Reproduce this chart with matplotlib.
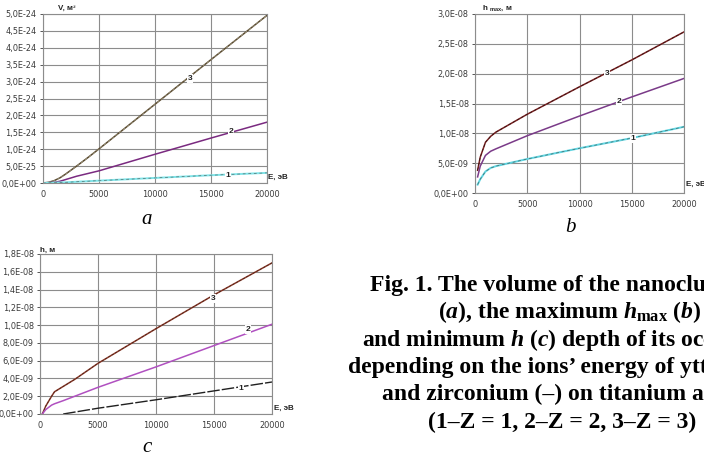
"""Nanocluster volume and depth vs ion energy: three small panels plus caption."""

import matplotlib

matplotlib.use("Agg")

import matplotlib.pyplot as plt
from matplotlib.ticker import FuncFormatter

plt.rcParams["mathtext.fontset"] = "custom"
plt.rcParams["mathtext.rm"] = "Liberation Serif:bold"
plt.rcParams["mathtext.it"] = "Liberation Serif:italic:bold"
plt.rcParams["mathtext.bf"] = "Liberation Serif:bold"
plt.rcParams["mathtext.sf"] = "Liberation Sans:bold"

# --- data ---
X_TICKS = [0, 5000, 10000, 15000, 20000]

# (a) volume V, m^3
A_E3 = [0, 500, 1000, 1500, 2000, 3000, 4000, 5000, 10000, 15000, 20000]
A_V3 = [0, 0.02e-24, 0.07e-24, 0.15e-24, 0.26e-24, 0.5e-24, 0.75e-24, 1.01e-24, 2.33e-24, 3.65e-24, 4.96e-24]
A_E2 = [0, 1000, 1500, 2000, 3000, 5000, 10000, 15000, 20000]
A_V2 = [0, 0.02e-24, 0.05e-24, 0.1e-24, 0.2e-24, 0.36e-24, 0.85e-24, 1.33e-24, 1.8e-24]
A_E1 = [0, 2000, 5000, 10000, 15000, 20000]
A_V1 = [0, 0.02e-24, 0.07e-24, 0.15e-24, 0.23e-24, 0.3e-24]

# (b) maximum depth h_max, m
B_E = [250, 500, 1000, 1500, 2000, 5000, 10000, 15000, 20000]
B_H3 = [3.8e-9, 6.0e-9, 8.5e-9, 9.5e-9, 10.2e-9, 13.2e-9, 17.8e-9, 22.3e-9, 27.0e-9]
B_H2 = [2.7e-9, 4.5e-9, 6.3e-9, 7.0e-9, 7.4e-9, 9.6e-9, 12.9e-9, 16.1e-9, 19.2e-9]
B_H1 = [1.4e-9, 2.3e-9, 3.6e-9, 4.2e-9, 4.5e-9, 5.7e-9, 7.5e-9, 9.2e-9, 11.1e-9]

# (c) minimum depth h, m
C_E32 = [200, 500, 1000, 1250, 2000, 3000, 5000, 10000, 15000, 20000]
C_H3 = [0, 0.9e-9, 2.0e-9, 2.5e-9, 3.1e-9, 3.9e-9, 5.7e-9, 9.6e-9, 13.4e-9, 17.0e-9]
C_H2 = [0, 0.5e-9, 1.0e-9, 1.15e-9, 1.5e-9, 2.0e-9, 3.0e-9, 5.3e-9, 7.7e-9, 10.1e-9]
C_E1 = [2000, 5000, 10000, 15000, 20000]
C_H1 = [0, 0.65e-9, 1.6e-9, 2.6e-9, 3.6e-9]

# caption runs off the right edge in the source image as well
CAPTION = [
    "Fig. 1. The volume of the nanoclus",
    r"($a$), the maximum $h_{\rm max}$ ($b$)",
    r"and minimum $h$ ($c$) depth of its occur",
    "depending on the ions\u2019 energy of yttri",
    "and zirconium (\u2013) on titanium at",
    "(1\u2013Z = 1, 2\u2013Z = 2, 3\u2013Z = 3)",
]
CAPTION_X = [370, 438, 362, 348, 382, 428]

W, H = 704, 462
GRID = "#8c8c8c"
TICK_COLOR = "#3a3a3a"


def sci_comma(v, _pos):
    return f"{v:.1E}".replace(".", ",")


def frame(ax, ymax, ystep):
    ax.set_xlim(0, 20000)
    ax.set_ylim(0, ymax)
    ax.set_xticks(X_TICKS)
    n = int(round(ymax / ystep))
    ax.set_yticks([i * ystep for i in range(n + 1)])
    ax.yaxis.set_major_formatter(FuncFormatter(sci_comma))
    ax.grid(True, color=GRID, lw=0.8)
    ax.set_axisbelow(True)
    for s in ax.spines.values():
        s.set_color(GRID)
        s.set_linewidth(0.8)
    ax.tick_params(labelsize=5.9, colors=TICK_COLOR, length=2.5, width=0.6, pad=2)
    ax.tick_params(axis="x", length=0, pad=5)


def num_label(ax, x, y, s):
    ax.text(x, y, s, fontsize=6, weight="bold", ha="center", va="center",
            family="Liberation Sans", color="#222222", zorder=5,
            bbox=dict(fc="white", ec="none", pad=0.6))


def px_axes(fig, left, top, right, bottom):
    return fig.add_axes([left / W, (H - bottom) / H, (right - left) / W, (bottom - top) / H])


fig = plt.figure(figsize=(W / 100, H / 100), dpi=100)

# ---- panel a
ax = px_axes(fig, 43, 14, 267, 183)
frame(ax, 5.0e-24, 0.5e-24)
ax.plot(A_E3, A_V3, color="#5a4a30", lw=1.1)
ax.plot(A_E3, A_V3, color="#a09a80", lw=0.5, ls=(0, (4, 3)))
ax.plot(A_E2, A_V2, color="#7a2a80", lw=1.1)
ax.plot(A_E1, A_V1, color="#80e4e8", lw=1.4)
ax.plot(A_E1, A_V1, color="#507070", lw=0.5, ls=(0, (4, 4)))
num_label(ax, 13100, 3.1e-24, "3")
num_label(ax, 16800, 1.52e-24, "2")
num_label(ax, 16500, 0.22e-24, "1")

# ---- panel b
ax = px_axes(fig, 475, 14, 684, 193)
frame(ax, 3.0e-8, 0.5e-8)
ax.plot(B_E, B_H3, color="#7a2222", lw=1.1)
ax.plot(B_E, B_H3, color="#301010", lw=0.5, ls=(0, (4, 3)))
ax.plot(B_E, B_H2, color="#7a3a88", lw=1.1)
ax.plot(B_E, B_H1, color="#60d4e0", lw=1.4)
ax.plot(B_E, B_H1, color="#406868", lw=0.5, ls=(0, (4, 4)))
num_label(ax, 12630, 20.1e-9, "3")
num_label(ax, 13780, 15.3e-9, "2")
num_label(ax, 15120, 9.1e-9, "1")

# ---- panel c
ax = px_axes(fig, 40, 254, 272, 414)
frame(ax, 1.8e-8, 0.2e-8)
ax.plot(C_E32, C_H3, color="#8a3a2a", lw=1.1)
ax.plot(C_E32, C_H3, color="#3a1a10", lw=0.4, ls=(0, (4, 3)))
ax.plot(C_E32, C_H2, color="#b050c0", lw=1.1)
ax.plot(C_E1, C_H1, color="#202020", lw=1.0, ls=(0, (9, 1.5)))
num_label(ax, 14900, 13.0e-9, "3")
num_label(ax, 17930, 9.5e-9, "2")
num_label(ax, 17320, 2.9e-9, "1")

# ---- axis captions (placed in pixel coords)
small = dict(fontsize=5.8, weight="bold", family="Liberation Sans", color="#222222",
             va="center", ha="left")
fig.text(58 / W, 1 - 8 / H, "V, м³", **small)
fig.text(268 / W, 1 - 177 / H, "E, эВ", **small)
fig.text(482 / W, 1 - 8 / H, r"h $_{\mathsf{max}}$, м", **small)
fig.text(686 / W, 1 - 184 / H, "E, эВ", **small)
fig.text(40 / W, 1 - 250 / H, "h, м", **small)
fig.text(274 / W, 1 - 408 / H, "E, эВ", **small)

letter = dict(fontsize=15, style="italic", family="Liberation Serif", ha="center", va="center")
fig.text(147 / W, 1 - 220 / H, "a", **letter)
fig.text(570 / W, 1 - 228 / H, "b", **letter)
fig.text(147 / W, 1 - 448 / H, "c", **letter)

for i, (line, x0) in enumerate(zip(CAPTION, CAPTION_X)):
    y = 285 + i * 27.4
    fig.text(x0 / W, 1 - y / H, line, fontsize=17, weight="bold",
             family="Liberation Serif", ha="left", va="center")

fig.savefig("out.png", dpi=100, facecolor="white")
